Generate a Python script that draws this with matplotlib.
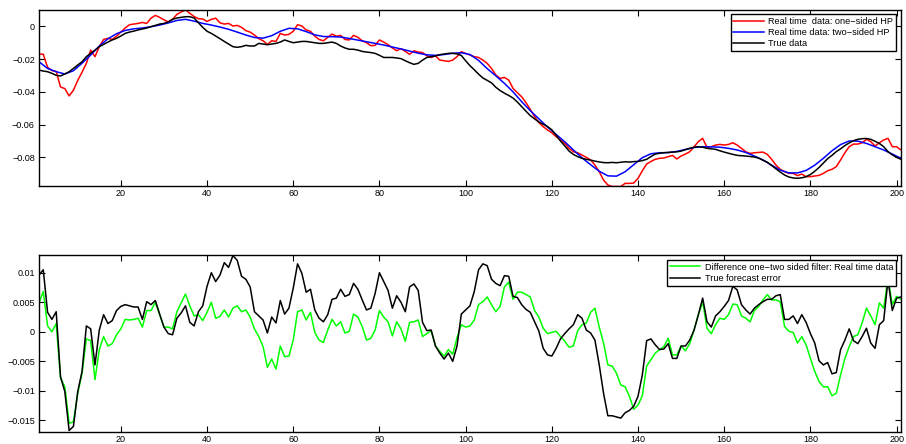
import numpy as np
import matplotlib
matplotlib.use("Agg")
import matplotlib.pyplot as plt
from matplotlib.ticker import FixedLocator, FuncFormatter

plt.rcParams["font.family"] = ["Liberation Sans", "DejaVu Sans"]
plt.rcParams["font.size"] = 6.5

# x axis: observation index
t = np.arange(1, 202)
t_smooth = np.arange(1, 202, 2)

# top panel: real time one-sided HP (red)
one_sided = [
    -0.0169, -0.0170, -0.0250, -0.0270, -0.0275, -0.0370, -0.0380, -0.0425, -0.0390, -0.0330,
    -0.0280, -0.0226, -0.0145, -0.0185, -0.0124, -0.0080, -0.0073, -0.0080, -0.0060, -0.0035,
    -0.0010, 0.0010, 0.0014, 0.0018, 0.0024, 0.0018, 0.0050, 0.0067, 0.0055, 0.0040,
    0.0027, 0.0043, 0.0073, 0.0088, 0.0100, 0.0080, 0.0060, 0.0047, 0.0045, 0.0030,
    0.0043, 0.0050, 0.0022, 0.0014, 0.0018, 0.0002, 0.0006, -0.0006, -0.0026, -0.0035,
    -0.0053, -0.0075, -0.0088, -0.0110, -0.0088, -0.0092, -0.0043, -0.0053, -0.0049, -0.0030,
    0.0010, 0.0002, -0.0022, -0.0030, -0.0060, -0.0080, -0.0088, -0.0067, -0.0047, -0.0060,
    -0.0055, -0.0080, -0.0083, -0.0055, -0.0067, -0.0088, -0.0100, -0.0118, -0.0116, -0.0083,
    -0.0096, -0.0112, -0.0132, -0.0149, -0.0136, -0.0153, -0.0171, -0.0149, -0.0157, -0.0160,
    -0.0180, -0.0190, -0.0180, -0.0206, -0.0210, -0.0214, -0.0206, -0.0185, -0.0155, -0.0165,
    -0.0175, -0.0185, -0.0190, -0.0206, -0.0226, -0.0257, -0.0297, -0.0318, -0.0312, -0.0328,
    -0.0379, -0.0405, -0.0430, -0.0466, -0.0507, -0.0552, -0.0588, -0.0613, -0.0633, -0.0650,
    -0.0674, -0.0694, -0.0715, -0.0745, -0.0766, -0.0772, -0.0786, -0.0800, -0.0816, -0.0847,
    -0.0888, -0.0939, -0.0969, -0.0978, -0.0978, -0.0978, -0.0959, -0.0959, -0.0957, -0.0928,
    -0.0882, -0.0841, -0.0825, -0.0812, -0.0806, -0.0804, -0.0796, -0.0788, -0.0810, -0.0792,
    -0.0780, -0.0766, -0.0735, -0.0704, -0.0684, -0.0739, -0.0735, -0.0725, -0.0721, -0.0725,
    -0.0721, -0.0711, -0.0725, -0.0745, -0.0766, -0.0776, -0.0772, -0.0770, -0.0768, -0.0782,
    -0.0812, -0.0847, -0.0873, -0.0888, -0.0898, -0.0898, -0.0912, -0.0902, -0.0918, -0.0918,
    -0.0914, -0.0910, -0.0898, -0.0882, -0.0873, -0.0857, -0.0816, -0.0772, -0.0735, -0.0719,
    -0.0719, -0.0711, -0.0690, -0.0704, -0.0731, -0.0711, -0.0694, -0.0684, -0.0735, -0.0735,
    -0.0755,
]

# top panel: real time two-sided HP (blue), read at odd indices
two_sided = [
    -0.0216, -0.0257, -0.0277, -0.0291, -0.0271, -0.0225, -0.0175, -0.0120, -0.0076, -0.0045,
    -0.0025, -0.0015, -0.0010, -0.0002, 0.0008, 0.0021, 0.0036, 0.0043, 0.0032, 0.0018,
    0.0008, -0.0004, -0.0018, -0.0035, -0.0053, -0.0068, -0.0072, -0.0057, -0.0030, -0.0012,
    -0.0015, -0.0032, -0.0052, -0.0062, -0.0063, -0.0065, -0.0074, -0.0084, -0.0094, -0.0104,
    -0.0114, -0.0126, -0.0138, -0.0151, -0.0164, -0.0174, -0.0177, -0.0172, -0.0164, -0.0161,
    -0.0172, -0.0208, -0.0258, -0.0302, -0.0348, -0.0400, -0.0460, -0.0515, -0.0565, -0.0615,
    -0.0660, -0.0705, -0.0755, -0.0803, -0.0845, -0.0885, -0.0913, -0.0915, -0.0888, -0.0845,
    -0.0802, -0.0778, -0.0772, -0.0771, -0.0764, -0.0752, -0.0740, -0.0735, -0.0736, -0.0738,
    -0.0745, -0.0755, -0.0770, -0.0792, -0.0816, -0.0848, -0.0878, -0.0895, -0.0895, -0.0880,
    -0.0848, -0.0806, -0.0760, -0.0722, -0.0700, -0.0701, -0.0715, -0.0735, -0.0755, -0.0780,
    -0.0806,
]

# top panel: true data (black)
true_data = [
    -0.0267, -0.0273, -0.0277, -0.0287, -0.0299, -0.0303, -0.0291, -0.0277, -0.0257, -0.0236,
    -0.0216, -0.0185, -0.0165, -0.0145, -0.0124, -0.0110, -0.0096, -0.0083, -0.0073, -0.0059,
    -0.0043, -0.0035, -0.0029, -0.0022, -0.0016, -0.0010, -0.0002, 0.0006, 0.0014, 0.0018,
    0.0027, 0.0043, 0.0051, 0.0055, 0.0059, 0.0059, 0.0051, 0.0022, -0.0006, -0.0030,
    -0.0043, -0.0059, -0.0075, -0.0092, -0.0108, -0.0124, -0.0128, -0.0124, -0.0116, -0.0120,
    -0.0120, -0.0104, -0.0108, -0.0112, -0.0108, -0.0104, -0.0096, -0.0083, -0.0092, -0.0100,
    -0.0096, -0.0092, -0.0092, -0.0096, -0.0100, -0.0104, -0.0104, -0.0100, -0.0096, -0.0104,
    -0.0120, -0.0132, -0.0140, -0.0140, -0.0145, -0.0153, -0.0157, -0.0160, -0.0165, -0.0177,
    -0.0190, -0.0190, -0.0190, -0.0193, -0.0197, -0.0210, -0.0222, -0.0232, -0.0226, -0.0206,
    -0.0190, -0.0185, -0.0181, -0.0173, -0.0169, -0.0165, -0.0165, -0.0168, -0.0178, -0.0210,
    -0.0240, -0.0265, -0.0292, -0.0315, -0.0330, -0.0345, -0.0372, -0.0392, -0.0408, -0.0422,
    -0.0438, -0.0462, -0.0490, -0.0518, -0.0545, -0.0565, -0.0584, -0.0598, -0.0612, -0.0632,
    -0.0665, -0.0700, -0.0730, -0.0762, -0.0782, -0.0796, -0.0806, -0.0812, -0.0817, -0.0823,
    -0.0828, -0.0832, -0.0833, -0.0831, -0.0833, -0.0830, -0.0827, -0.0829, -0.0826, -0.0825,
    -0.0820, -0.0812, -0.0795, -0.0780, -0.0775, -0.0772, -0.0770, -0.0768, -0.0766, -0.0762,
    -0.0753, -0.0745, -0.0738, -0.0735, -0.0738, -0.0745, -0.0748, -0.0751, -0.0760, -0.0768,
    -0.0775, -0.0782, -0.0788, -0.0790, -0.0792, -0.0795, -0.0798, -0.0805, -0.0818, -0.0830,
    -0.0850, -0.0870, -0.0890, -0.0908, -0.0920, -0.0926, -0.0928, -0.0925, -0.0918, -0.0905,
    -0.0885, -0.0862, -0.0835, -0.0808, -0.0788, -0.0765, -0.0748, -0.0728, -0.0712, -0.0698,
    -0.0690, -0.0686, -0.0685, -0.0690, -0.0702, -0.0715, -0.0735, -0.0765, -0.0785, -0.0800,
    -0.0812,
]

# bottom panel: difference one-two sided filter (green)
filter_diff = [
    0.0049, 0.0068, 0.0010, 0.0000, 0.0014, -0.0078, -0.0093, -0.0155, -0.0152, -0.0104,
    -0.0070, -0.0012, -0.0015, -0.0081, -0.0030, -0.0008, -0.0024, -0.0020, -0.0005, 0.0005,
    0.0021, 0.0020, 0.0021, 0.0023, 0.0008, 0.0036, 0.0036, 0.0050, 0.0029, 0.0008,
    0.0008, 0.0005, 0.0034, 0.0049, 0.0064, 0.0044, 0.0027, 0.0029, 0.0019, 0.0033,
    0.0050, 0.0023, 0.0026, 0.0037, 0.0025, 0.0040, 0.0044, 0.0034, 0.0037, 0.0025,
    0.0005, -0.0008, -0.0025, -0.0060, -0.0046, -0.0063, -0.0024, -0.0042, -0.0041, -0.0014,
    0.0034, 0.0037, 0.0020, 0.0033, -0.0001, -0.0014, -0.0018, 0.0003, 0.0021, 0.0010,
    0.0017, -0.0002, 0.0001, 0.0030, 0.0025, 0.0009, -0.0014, -0.0011, 0.0003, 0.0036,
    0.0025, 0.0017, -0.0007, 0.0017, 0.0005, -0.0016, 0.0016, 0.0017, 0.0020, -0.0008,
    -0.0003, 0.0002, -0.0024, -0.0033, -0.0041, -0.0030, -0.0038, -0.0010, 0.0012, 0.0008,
    0.0010, 0.0020, 0.0046, 0.0051, 0.0059, 0.0046, 0.0034, 0.0043, 0.0076, 0.0084,
    0.0055, 0.0067, 0.0067, 0.0063, 0.0059, 0.0036, 0.0025, 0.0006, -0.0003, -0.0001,
    0.0001, -0.0008, -0.0016, -0.0026, -0.0024, 0.0002, 0.0012, 0.0015, 0.0033, 0.0040,
    0.0008, -0.0019, -0.0056, -0.0058, -0.0070, -0.0090, -0.0093, -0.0109, -0.0131, -0.0124,
    -0.0108, -0.0058, -0.0047, -0.0036, -0.0030, -0.0025, -0.0011, -0.0039, -0.0039, -0.0024,
    -0.0032, -0.0020, 0.0003, 0.0029, 0.0051, 0.0006, -0.0003, 0.0012, 0.0023, 0.0021,
    0.0029, 0.0047, 0.0046, 0.0027, 0.0023, 0.0017, 0.0036, 0.0043, 0.0054, 0.0063,
    0.0054, 0.0054, 0.0051, 0.0009, 0.0001, -0.0001, -0.0019, -0.0008, -0.0022, -0.0045,
    -0.0067, -0.0084, -0.0093, -0.0093, -0.0108, -0.0104, -0.0073, -0.0045, -0.0025, -0.0008,
    -0.0005, 0.0015, 0.0040, 0.0027, 0.0012, 0.0049, 0.0040, 0.0090, 0.0046, 0.0060,
    0.0055,
]

# bottom panel: true forecast error (black)
forecast_err = [
    0.0096, 0.0105, 0.0033, 0.0021, 0.0034, -0.0076, -0.0101, -0.0167, -0.0160, -0.0101,
    -0.0067, 0.0010, 0.0005, -0.0056, 0.0003, 0.0029, 0.0014, 0.0019, 0.0036, 0.0043,
    0.0046, 0.0044, 0.0042, 0.0042, 0.0021, 0.0051, 0.0046, 0.0053, 0.0030, 0.0008,
    -0.0003, -0.0005, 0.0023, 0.0032, 0.0044, 0.0016, 0.0010, 0.0034, 0.0044, 0.0077,
    0.0100, 0.0085, 0.0096, 0.0117, 0.0109, 0.0129, 0.0121, 0.0094, 0.0089, 0.0076,
    0.0034, 0.0027, 0.0020, -0.0002, 0.0025, 0.0015, 0.0053, 0.0030, 0.0040, 0.0074,
    0.0115, 0.0099, 0.0067, 0.0072, 0.0037, 0.0023, 0.0017, 0.0029, 0.0055, 0.0057,
    0.0072, 0.0060, 0.0063, 0.0082, 0.0072, 0.0054, 0.0037, 0.0040, 0.0065, 0.0100,
    0.0085, 0.0070, 0.0040, 0.0061, 0.0050, 0.0034, 0.0076, 0.0081, 0.0070, 0.0016,
    0.0002, 0.0003, -0.0024, -0.0036, -0.0046, -0.0036, -0.0050, -0.0024, 0.0030, 0.0037,
    0.0044, 0.0068, 0.0105, 0.0115, 0.0112, 0.0089, 0.0082, 0.0078, 0.0095, 0.0094,
    0.0060, 0.0058, 0.0046, 0.0038, 0.0033, 0.0017, 0.0001, -0.0028, -0.0039, -0.0041,
    -0.0028, -0.0012, -0.0003, 0.0005, 0.0012, 0.0029, 0.0023, 0.0003, -0.0002, -0.0014,
    -0.0056, -0.0104, -0.0142, -0.0142, -0.0144, -0.0146, -0.0137, -0.0133, -0.0126, -0.0109,
    -0.0073, -0.0015, -0.0012, -0.0022, -0.0030, -0.0029, -0.0020, -0.0045, -0.0045, -0.0024,
    -0.0024, -0.0014, 0.0003, 0.0029, 0.0057, 0.0017, 0.0008, 0.0027, 0.0034, 0.0043,
    0.0053, 0.0077, 0.0071, 0.0046, 0.0037, 0.0030, 0.0040, 0.0046, 0.0051, 0.0055,
    0.0055, 0.0061, 0.0063, 0.0021, 0.0021, 0.0027, 0.0014, 0.0029, 0.0016, -0.0003,
    -0.0019, -0.0049, -0.0056, -0.0052, -0.0071, -0.0069, -0.0030, -0.0014, 0.0005, -0.0015,
    -0.0020, -0.0008, 0.0006, -0.0019, -0.0028, 0.0012, 0.0019, 0.0088, 0.0036, 0.0057,
    0.0059,
]

x_ticks = [20, 40, 60, 80, 100, 120, 140, 160, 180, 200]
top_yticks = [0, -0.02, -0.04, -0.06, -0.08]
bottom_yticks = [0.01, 0.005, 0, -0.005, -0.01, -0.015]


def matlab_fmt(v, pos=None):
    s = "%g" % round(v, 6)
    return s.replace("-", "\u2212")


def style_axes(ax, yticks):
    ax.xaxis.set_major_locator(FixedLocator(x_ticks))
    ax.yaxis.set_major_locator(FixedLocator(yticks))
    ax.xaxis.set_major_formatter(FuncFormatter(matlab_fmt))
    ax.yaxis.set_major_formatter(FuncFormatter(matlab_fmt))
    ax.tick_params(direction="in", length=4, width=0.8, top=True, right=True,
                   labelsize=6.5, pad=3, colors="black")
    ax.tick_params(axis="x", pad=2.5)
    for sp in ax.spines.values():
        sp.set_linewidth(1.0)


fig = plt.figure(figsize=(9.06, 4.44), dpi=100)

ax1 = fig.add_axes([0.0430, 0.5811, 0.9514, 0.3964])
ax1.plot(t, one_sided, color="#ff0000", lw=1.1, label="Real time  data: one\u2212sided HP")
ax1.plot(t_smooth, two_sided, color="#0000ff", lw=1.1, label="Real time data: two\u2212sided HP")
ax1.plot(t, true_data, color="black", lw=1.1, label="True data")
ax1.set_xlim(1, 201)
ax1.set_ylim(-0.0975, 0.0100)
style_axes(ax1, top_yticks)
leg1 = ax1.legend(loc="upper right", bbox_to_anchor=(0.9942, 0.977), borderaxespad=0,
                  fontsize=6.6, handlelength=3.3, labelspacing=0.25, borderpad=0.3,
                  handletextpad=0.5, fancybox=False, framealpha=1, edgecolor="black")
leg1.get_frame().set_linewidth(1.0)

ax2 = fig.add_axes([0.0430, 0.0277, 0.9514, 0.3980])
ax2.plot(t, filter_diff, color="#00ff00", lw=1.1,
         label="Difference one\u2212two sided filter: Real time data")
ax2.plot(t, forecast_err, color="black", lw=1.1, label="True forecast error")
ax2.set_xlim(1, 201)
ax2.set_ylim(-0.0169, 0.0130)
style_axes(ax2, bottom_yticks)
leg2 = ax2.legend(loc="upper right", bbox_to_anchor=(0.9942, 0.972), borderaxespad=0,
                  fontsize=6.6, handlelength=3.3, labelspacing=0.25, borderpad=0.3,
                  handletextpad=0.5, fancybox=False, framealpha=1, edgecolor="black")
leg2.get_frame().set_linewidth(1.0)

fig.savefig("out.png", dpi=100)
plt.close(fig)
